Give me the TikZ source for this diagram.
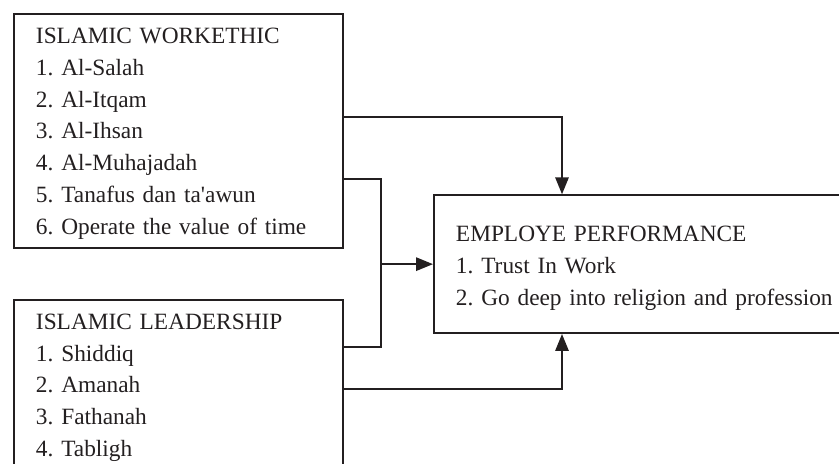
\documentclass[tikz,border=0pt]{standalone}
\usepackage{fontspec}
\setmainfont{Liberation Serif}[Ligatures=TeXOff]
\usepackage{tikz}
\usetikzlibrary{arrows.meta,positioning,calc}
\definecolor{ink}{HTML}{231F20}
\frenchspacing
\hyphenpenalty=10000

\begin{document}
\begin{tikzpicture}[x=0.025cm, y=-0.025cm,
  factor/.style={draw=ink, line width=1.4pt, text=ink, anchor=north west, align=left, inner xsep=0.55cm, inner ysep=0pt, font=\fontsize{16.6}{22.6}\selectfont},
  link/.style={draw=ink, line width=1.4pt},
  flow/.style={link, -{Triangle[length=4.2mm, width=3.3mm]}}
]
  \useasboundingbox (0,0) rectangle (839,464);
  \clip (0,0) rectangle (839,464);

  \node[factor, text width=7.125cm, text height=0.7375cm, text depth=5.1125cm] (wethic) at (13,13)
    {ISLAMIC WORKETHIC\\1. Al-Salah\\2. Al-Itqam\\3. Al-Ihsan\\4. Al-Muhajadah\\5. Tanafus dan ta'awun\\6. Operate the value of time};
  \node[factor, text width=7.125cm, text height=0.7325cm, text depth=4.25cm] (lead) at (13,299)
    {ISLAMIC LEADERSHIP\\1. Shiddiq\\2. Amanah\\3. Fathanah\\4. Tabligh};
  \node[factor, text width=11cm, text height=1.1675cm, text depth=2.275cm] (perf) at (433,194.3)
    {EMPLOYE PERFORMANCE\\1. Trust In Work\\2. Go deep into religion and profession};

  \coordinate (upper) at (562,117);
  \coordinate (lower) at (562,389);
  \coordinate (hubtop) at (381,179);
  \coordinate (hubbot) at (381,347);

  \draw[flow] (wethic.east |- upper) -| (perf.north -| upper);
  \draw[flow] (lead.east |- lower) -| (perf.south -| lower);
  \draw[link] (wethic.east |- hubtop) -- (hubtop) -- (hubbot) -- (lead.east |- hubbot);
  \draw[flow] (hubtop |- perf.west) -- (perf.west);
\end{tikzpicture}
\end{document}
